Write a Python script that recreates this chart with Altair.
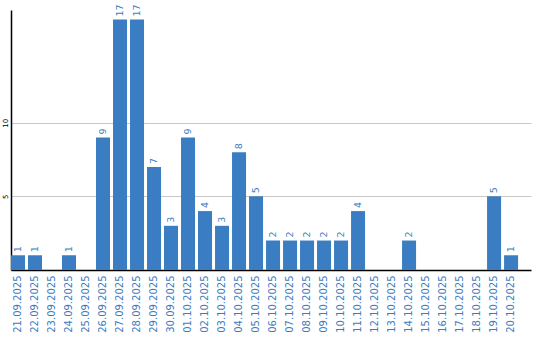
import altair as alt
import pandas as pd

dates = ["21.09.2025", "22.09.2025", "23.09.2025", "24.09.2025", "25.09.2025",
         "26.09.2025", "27.09.2025", "28.09.2025", "29.09.2025", "30.09.2025",
         "01.10.2025", "02.10.2025", "03.10.2025", "04.10.2025", "05.10.2025",
         "06.10.2025", "07.10.2025", "08.10.2025", "09.10.2025", "10.10.2025",
         "11.10.2025", "12.10.2025", "13.10.2025", "14.10.2025", "15.10.2025",
         "16.10.2025", "17.10.2025", "18.10.2025", "19.10.2025", "20.10.2025"]
values = [1, 1, 0, 1, 0, 9, 17, 17, 7, 3, 9, 4, 3, 8, 5, 2, 2, 2, 2, 2,
          4, 0, 0, 2, 0, 0, 0, 0, 5, 1]
y_ticks = [5, 10]

df = pd.DataFrame({"date": dates, "value": values})

blue = "#3a7dc2"

x = alt.X("date:N", sort=dates, title=None,
          scale=alt.Scale(paddingInner=0.176, paddingOuter=0.38, align=0),
          axis=alt.Axis(labelAngle=-90, labelColor=blue, labelFont="DejaVu Sans",
                        labelFontSize=10, labelPadding=5, ticks=False,
                        domainColor="black", domainWidth=1.5, labelAlign="right",
                        labelBaseline="middle"))
y = alt.Y("value:Q", title=None,
          scale=alt.Scale(domain=[0, 17.65], nice=False, zero=True),
          axis=alt.Axis(values=y_ticks, labelAngle=-90, labelFontSize=7,
                        labelFont="DejaVu Sans", labelColor="black", ticks=False,
                        labelAlign="center", labelBaseline="bottom", labelPadding=3,
                        grid=True, gridColor="#c8c8c8", gridWidth=1,
                        domainColor="black", domainWidth=1.5))

bars = alt.Chart(df).mark_bar(color=blue).encode(x=x, y=y)

labels = alt.Chart(df).transform_filter("datum.value > 0").mark_text(
    angle=270, align="left", baseline="middle", dx=3, color=blue,
    font="DejaVu Sans", fontSize=9.5
).encode(x=alt.X("date:N", sort=dates), y=alt.Y("value:Q"), text="value:Q")

chart = (bars + labels).properties(
    width=520, height=260,
    autosize=alt.AutoSizeParams(type="none"),
    padding={"left": 11, "top": 10, "right": 9, "bottom": 70},
).configure_view(stroke=None).configure_axis(labelOverlap=False)

chart.save("out.html", embed_options={"renderer": "svg", "actions": False})
